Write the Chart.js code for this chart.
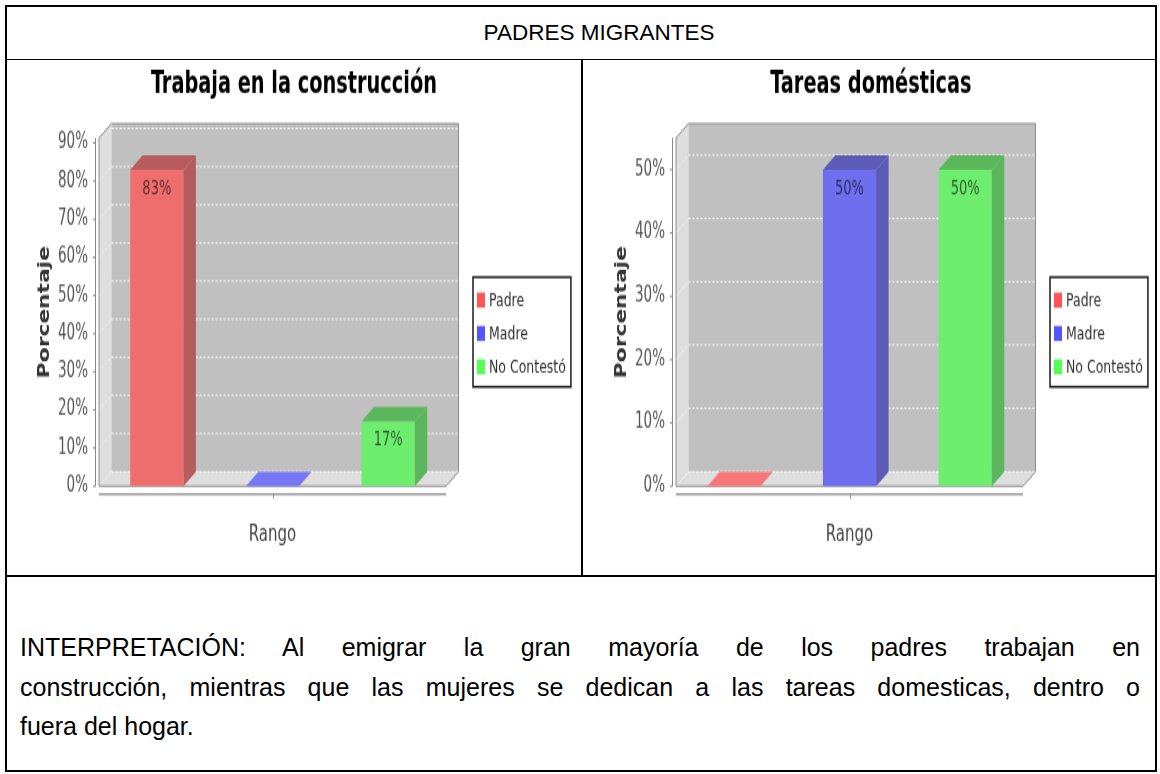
<!DOCTYPE html>
<html lang="es">
<head>
<meta charset="utf-8">
<title>Padres migrantes</title>
<script src="https://cdn.jsdelivr.net/npm/chart.js@4.4.1/dist/chart.umd.min.js"></script>
<style>
  html, body { margin: 0; padding: 0; background: #fff; }
  body { width: 1160px; height: 774px; position: relative; overflow: hidden; font-family: "Liberation Sans", Arial, sans-serif; color: #000; }
  .rule { position: absolute; background: #000; z-index: 3; }
  /* the charts are drawn squat and stretched, like the original picture */
  .chart { position: absolute; top: 61px; transform: scaleY(1.45); transform-origin: 0 0; }
  #header { position: absolute; left: 43px; top: 7px; width: 1112px; height: 52px; line-height: 52px; text-align: center; font-size: 22.5px; }
  #notes { position: absolute; left: 20px; top: 628px; width: 1120px; font-size: 25px; line-height: 39.5px; }
  #notes .j { text-align: justify; text-align-last: justify; }
</style>
</head>
<body>
<div id="header">PADRES MIGRANTES</div>
<canvas id="chartConstruccion" class="chart" width="576" height="355" style="left:6px"></canvas>
<canvas id="chartDomesticas" class="chart" width="576" height="355" style="left:583px"></canvas>
<div id="notes">
  <div class="j">INTERPRETACIÓN: Al emigrar la gran mayoría de los padres trabajan en</div>
  <div class="j">construcción, mientras que las mujeres se dedican a las tareas domesticas, dentro o</div>
  <div>fuera del hogar.</div>
</div>
<!-- table rules -->
<div class="rule" style="left:5px;top:5px;width:1152px;height:2px"></div>
<div class="rule" style="left:5px;top:770px;width:1152px;height:2px"></div>
<div class="rule" style="left:5px;top:5px;width:2px;height:767px"></div>
<div class="rule" style="left:1155px;top:5px;width:2px;height:767px"></div>
<div class="rule" style="left:5px;top:59px;width:1152px;height:1px"></div>
<div class="rule" style="left:581px;top:59px;width:2px;height:518px"></div>
<div class="rule" style="left:5px;top:575px;width:1152px;height:2px"></div>

<script>
// Padres migrantes - two JFreeChart-like 3D bar charts

// data
const seriesNames = ["Padre", "Madre", "No Contestó"];
const categories = [""];
const axisTitleX = "Rango";
const axisTitleY = "Porcentaje";

const construccionTitle = "Trabaja en la construcción";
const construccionValues = [83, 0, 17];
const construccionTicks = [0, 10, 20, 30, 40, 50, 60, 70, 80, 90];

const domesticasTitle = "Tareas domésticas";
const domesticasValues = [0, 50, 50];
const domesticasTicks = [0, 10, 20, 30, 40, 50];

// look
const SWATCH = ["#ff5555", "#5555ff", "#55ff55"];
const FRONT = ["#ee6e6e", "#6e6eee", "#6eee6e"];
const SHADE = ["#b65c5c", "#5c5cb6", "#5cb65c"];
const FLAT = ["#f67777", "#7777f6", "#77f677"];
const DX = 12.5, DY = 10; // 3d depth in canvas px (canvas gets stretched 1.45x in y)
const CONDENSED = "'DejaVu Sans Condensed', 'DejaVu Sans', sans-serif";
const SANS = "'DejaVu Sans', sans-serif";

Chart.defaults.font.family = SANS;

function poly(ctx, pts, close) {
  ctx.beginPath();
  pts.forEach(([px, py], k) => (k ? ctx.lineTo(px, py) : ctx.moveTo(px, py)));
  if (close !== false) ctx.closePath();
}

function seg(ctx, x0, y0, x1, y1) {
  ctx.beginPath();
  ctx.moveTo(x0, y0);
  ctx.lineTo(x1, y1);
  ctx.stroke();
}

const plot3d = {
  id: "plot3d",
  beforeDatasetsDraw(chart) {
    const { ctx, chartArea: a, scales: { x, y } } = chart;
    ctx.save();
    // left wall + floor
    ctx.fillStyle = "#dedede";
    poly(ctx, [[a.left, a.top], [a.left + DX, a.top - DY], [a.left + DX, a.bottom - DY], [a.left, a.bottom]]);
    ctx.fill();
    poly(ctx, [[a.left, a.bottom], [a.left + DX, a.bottom - DY], [a.right + DX, a.bottom - DY], [a.right, a.bottom]]);
    ctx.fill();
    // back wall
    ctx.fillStyle = "#c0c0c0";
    ctx.fillRect(a.left + DX, a.top - DY, a.right - a.left, a.bottom - a.top);

    // dotted grid on the back wall
    ctx.lineWidth = 1;
    ctx.setLineDash([2, 2]);
    y.ticks.forEach((t) => {
      const py = y.getPixelForValue(t.value);
      ctx.strokeStyle = "rgba(255,255,255,0.9)";
      seg(ctx, a.left + DX, py - DY, a.right + DX, py - DY);
      ctx.strokeStyle = "rgba(255,255,255,0.5)";
      seg(ctx, a.left, py, a.left + DX, py - DY);
    });
    ctx.setLineDash([]);

    // outline of the box
    ctx.strokeStyle = "#8c8c8c";
    poly(ctx, [[a.left, a.bottom], [a.left, a.top], [a.left + DX, a.top - DY], [a.right + DX, a.top - DY],
      [a.right + DX, a.bottom - DY], [a.right, a.bottom]]);
    ctx.stroke();

    // value axis, set off a little to the left, ticks outside
    const ax = Math.round(a.left - 4) + 0.5;
    ctx.strokeStyle = "#888";
    seg(ctx, ax, a.top, ax, a.bottom);
    y.ticks.forEach((t) => {
      const py = y.getPixelForValue(t.value);
      seg(ctx, ax - 2.5, py, ax, py);
    });

    // category axis below the floor
    const cy = a.bottom + 5.5;
    ctx.strokeStyle = "#999";
    ctx.lineWidth = 1.5;
    seg(ctx, a.left, cy, a.right, cy);
    ctx.lineWidth = 1;
    const cx = Math.round(x.getPixelForValue(0)) + 0.5;
    seg(ctx, cx, cy, cx, cy + 3.5);
    ctx.restore();
  },

  afterDatasetsDraw(chart) {
    const { ctx } = chart;
    ctx.save();
    ctx.font = `14.5px ${CONDENSED}`;
    ctx.textAlign = "center";
    ctx.textBaseline = "middle";
    chart.data.datasets.forEach((ds, i) => {
      chart.getDatasetMeta(i).data.forEach((bar, j) => {
        const { x, y, base, width } = bar.getProps(["x", "y", "base", "width"], true);
        const x0 = x - width / 2, x1 = x + width / 2;
        const flat = base - y < 0.5;
        ctx.fillStyle = flat ? FLAT[i] : SHADE[i];
        poly(ctx, [[x0, y], [x0 + DX, y - DY], [x1 + DX, y - DY], [x1, y]]);
        ctx.fill();
        if (!flat) {
          poly(ctx, [[x1, y], [x1 + DX, y - DY], [x1 + DX, base - DY], [x1, base]]);
          ctx.fill();
        }
        const v = ds.data[j];
        if (v > 0) {
          ctx.fillStyle = "rgba(0,0,0,0.6)";
          ctx.fillText(`${v}%`, x, y + 13);
        }
      });
    });
    ctx.restore();
  },

  // boxed legend at the right, like JFreeChart
  afterDraw(chart) {
    const { ctx, chartArea: a } = chart;
    const labels = chart.data.datasets.map((d) => d.label);
    ctx.save();
    ctx.font = `12.5px ${SANS}`;
    const textW = Math.max(...labels.map((t) => ctx.measureText(t).width));
    const left = a.right + 27, top = a.top + 96;
    const rowH = 23, first = 15.8;
    const boxW = 4 + 8 + 4 + textW + 5;
    const boxH = first + rowH * (labels.length - 1) + 13.8;
    ctx.fillStyle = "#fff";
    ctx.fillRect(left, top, boxW, boxH);
    ctx.strokeStyle = "#1a1a1a";
    ctx.lineWidth = 1.5;
    ctx.strokeRect(left, top, boxW, boxH);
    ctx.textAlign = "left";
    ctx.textBaseline = "middle";
    labels.forEach((t, i) => {
      const cy = top + first + rowH * i;
      ctx.fillStyle = SWATCH[i];
      ctx.fillRect(left + 4, cy - 5.2, 8, 10.4);
      ctx.fillStyle = "#333";
      ctx.fillText(t, left + 16, cy + 0.5);
    });
    ctx.restore();
  },
};

function makeChart(canvasId, title, values, yTicks) {
  const ctx = document.getElementById(canvasId).getContext("2d");
  return new Chart(ctx, {
    type: "bar",
    data: {
      labels: categories,
      datasets: seriesNames.map((name, i) => ({
        label: name,
        data: [values[i]],
        backgroundColor: FRONT[i],
        borderWidth: 0,
        categoryPercentage: 1,
        barPercentage: 0.46,
      })),
    },
    options: {
      responsive: false,
      animation: false,
      layout: { padding: { left: 6, right: 6, top: 0, bottom: 19 } },
      plugins: {
        legend: { display: false },
        tooltip: { enabled: false },
        title: {
          display: true,
          text: title,
          color: "#000",
          font: { family: CONDENSED, size: 21.5, weight: "bold", lineHeight: 1.2 },
          padding: { top: 4, bottom: 23.3 },
        },
      },
      scales: {
        x: {
          grid: { display: false, drawTicks: false },
          border: { display: false },
          ticks: { display: false },
          title: {
            display: true,
            text: axisTitleX,
            color: "#444",
            font: { family: SANS, size: 15, lineHeight: 1.2 },
            padding: { top: 24.8, bottom: 0 },
          },
        },
        y: {
          min: 0,
          max: Math.max(...values) * 1.1,
          afterBuildTicks: (s) => { s.ticks = yTicks.map((v) => ({ value: v })); },
          afterFit: (s) => { s.width = 87; },
          grid: { display: false, drawTicks: false },
          border: { display: false },
          ticks: { padding: 11, color: "#555", font: { family: CONDENSED, size: 15 }, callback: (v) => `${v}%` },
          title: {
            display: true,
            text: axisTitleY,
            color: "#333",
            font: { family: SANS, size: 15, weight: "bold", lineHeight: 1.2 },
            padding: { top: 24, bottom: 0 },
          },
        },
        // empty room on the right for the boxed legend
        legendRoom: {
          type: "linear",
          position: "right",
          display: true,
          grid: { display: false, drawTicks: false },
          border: { display: false },
          ticks: { display: false },
          afterFit: (s) => { s.width = 130; },
        },
      },
    },
    plugins: [plot3d],
  });
}

makeChart("chartConstruccion", construccionTitle, construccionValues, construccionTicks);
makeChart("chartDomesticas", domesticasTitle, domesticasValues, domesticasTicks);
</script>
</body>
</html>
